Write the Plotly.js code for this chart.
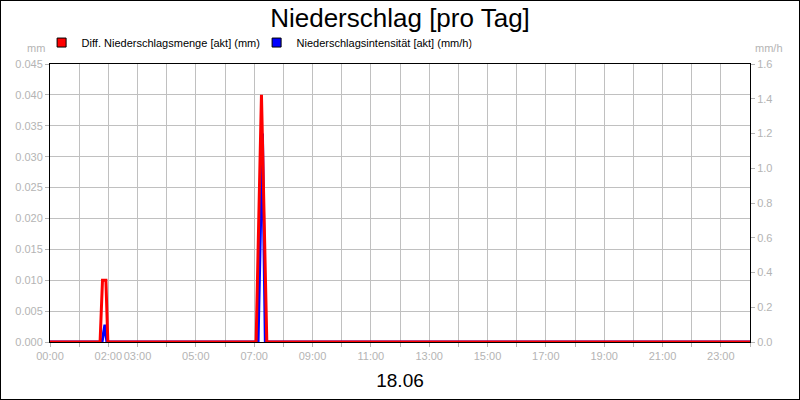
<!DOCTYPE html>
<html>
<head>
<meta charset="utf-8">
<script src="https://cdn.plot.ly/plotly-3.0.1.min.js"></script>
<style>
  body { margin: 0; background: #fff; }
  #plot { width: 798px; height: 398px; border: 1px solid #000; }
</style>
</head>
<body>
<div id="plot"></div>
<script>
// Diff. Niederschlagsmenge [akt] (mm), left axis
var mengeTimes  = ['00:00', '01:43', '01:48', '01:55', '01:59', '07:04', '07:15', '07:26', '24:00'];
var mengeValues = [0, 0, 0.010, 0.010, 0, 0, 0.040, 0, 0];

// Niederschlagsintensität [akt] (mm/h), right axis
var intensTimes  = ['00:00', '01:47', '01:53', '01:57', '07:08', '07:17', '07:23', '24:00'];
var intensValues = [0, 0, 0.10, 0, 0, 1.20, 0, 0];

var hourTicks  = [0, 1, 2, 3, 4, 5, 6, 7, 8, 9, 10, 11, 12, 13, 14, 15, 16, 17, 18, 19, 20, 21, 22, 23, 24];
var hourLabels = ['00:00', '', '02:00', '03:00', '', '05:00', '', '07:00', '', '09:00', '', '11:00', '',
                  '13:00', '', '15:00', '', '17:00', '', '19:00', '', '21:00', '', '23:00', ''];

function toHours(t) {
    var p = t.split(':');
    return parseInt(p[0], 10) + parseInt(p[1], 10) / 60;
}

function runPlot() {
    var plotdiv = document.querySelector('#plot');
    var grey = '#b4b4b4';
    var font = 'Liberation Sans, Arial, sans-serif';

    // blue sits on the base subplot, red on the overlay so it is drawn on top
    var intens = {
        x: intensTimes.map(toHours),
        y: intensValues,
        yaxis: 'y',
        mode: 'lines',
        type: 'scatter',
        name: 'Niederschlagsintensität [akt] (mm/h)',
        line: { color: '#0000ff', width: 3 },
        showlegend: false,
        hoverinfo: 'skip',
    };

    var menge = {
        x: mengeTimes.map(toHours),
        y: mengeValues,
        yaxis: 'y2',
        mode: 'lines',
        type: 'scatter',
        name: 'Diff. Niederschlagsmenge [akt] (mm)',
        line: { color: '#ff0000', width: 3 },
        showlegend: false,
        hoverinfo: 'skip',
    };

    // square legend entries
    var legendMenge = {
        x: [null], y: [null],
        mode: 'markers', type: 'scatter',
        name: menge.name,
        marker: { color: '#ff0000', symbol: 'square', size: 9, line: { color: '#000', width: 1 } },
    };
    var legendIntens = {
        x: [null], y: [null],
        mode: 'markers', type: 'scatter',
        name: intens.name,
        marker: { color: '#0000ff', symbol: 'square', size: 9, line: { color: '#000', width: 1 } },
    };

    var data = [intens, menge, legendMenge, legendIntens];

    var layout = {
        width: 798,
        height: 398,
        margin: { l: 49, r: 49, t: 63, b: 57 },
        paper_bgcolor: '#fff',
        plot_bgcolor: '#fff',
        font: { family: font, size: 11, color: grey },
        title: {
            text: 'Niederschlag [pro Tag]',
            font: { family: font, size: 26, color: '#000' },
            x: 0.5, xanchor: 'center',
            y: 0.958, yanchor: 'middle',
        },
        showlegend: true,
        legend: {
            orientation: 'h',
            x: -0.012, xanchor: 'left',
            y: 1.025, yanchor: 'bottom',
            font: { family: font, size: 11, color: '#000' },
            bgcolor: 'rgba(0,0,0,0)',
            itemwidth: 30,
            entrywidth: 170,
            tracegroupgap: 0,
        },
        xaxis: {
            range: [0, 24],
            tickmode: 'array',
            tickvals: hourTicks,
            ticktext: hourLabels,
            tickangle: 0,
            showgrid: true,
            gridcolor: '#c0c0c0',
            zeroline: false,
            showline: true,
            linecolor: '#000',
            mirror: true,
            ticks: 'outside',
            ticklen: 4,
            tickcolor: grey,
            tickfont: { family: font, size: 11, color: grey },
            title: { text: '18.06', font: { family: font, size: 19, color: '#000' }, standoff: 12 },
            fixedrange: true,
        },
        yaxis: {
            range: [0, 1.6],
            dtick: 0.2,
            tickformat: '.1f',
            side: 'right',
            showgrid: false,
            zeroline: false,
            showline: true,
            linecolor: '#000',
            ticks: 'outside',
            ticklen: 4,
            tickcolor: grey,
            tickfont: { family: font, size: 11, color: grey },
            fixedrange: true,
        },
        yaxis2: {
            range: [0, 0.045],
            dtick: 0.005,
            tickformat: '.3f',
            overlaying: 'y',
            side: 'left',
            showgrid: true,
            gridcolor: '#c0c0c0',
            zeroline: false,
            showline: true,
            linecolor: '#000',
            ticks: 'outside',
            ticklen: 4,
            tickcolor: grey,
            tickfont: { family: font, size: 11, color: grey },
            fixedrange: true,
        },
        annotations: [
            { text: 'mm', xref: 'paper', yref: 'paper', x: -0.004, y: 1.058, xanchor: 'right', yanchor: 'middle',
              showarrow: false, font: { family: font, size: 11, color: grey } },
            { text: 'mm/h', xref: 'paper', yref: 'paper', x: 1.004, y: 1.058, xanchor: 'left', yanchor: 'middle',
              showarrow: false, font: { family: font, size: 11, color: grey } },
        ],
    };

    var config = { displayModeBar: false, staticPlot: true };

    Plotly.newPlot(plotdiv, data, layout, config);
}

runPlot();
</script>
</body>
</html>
